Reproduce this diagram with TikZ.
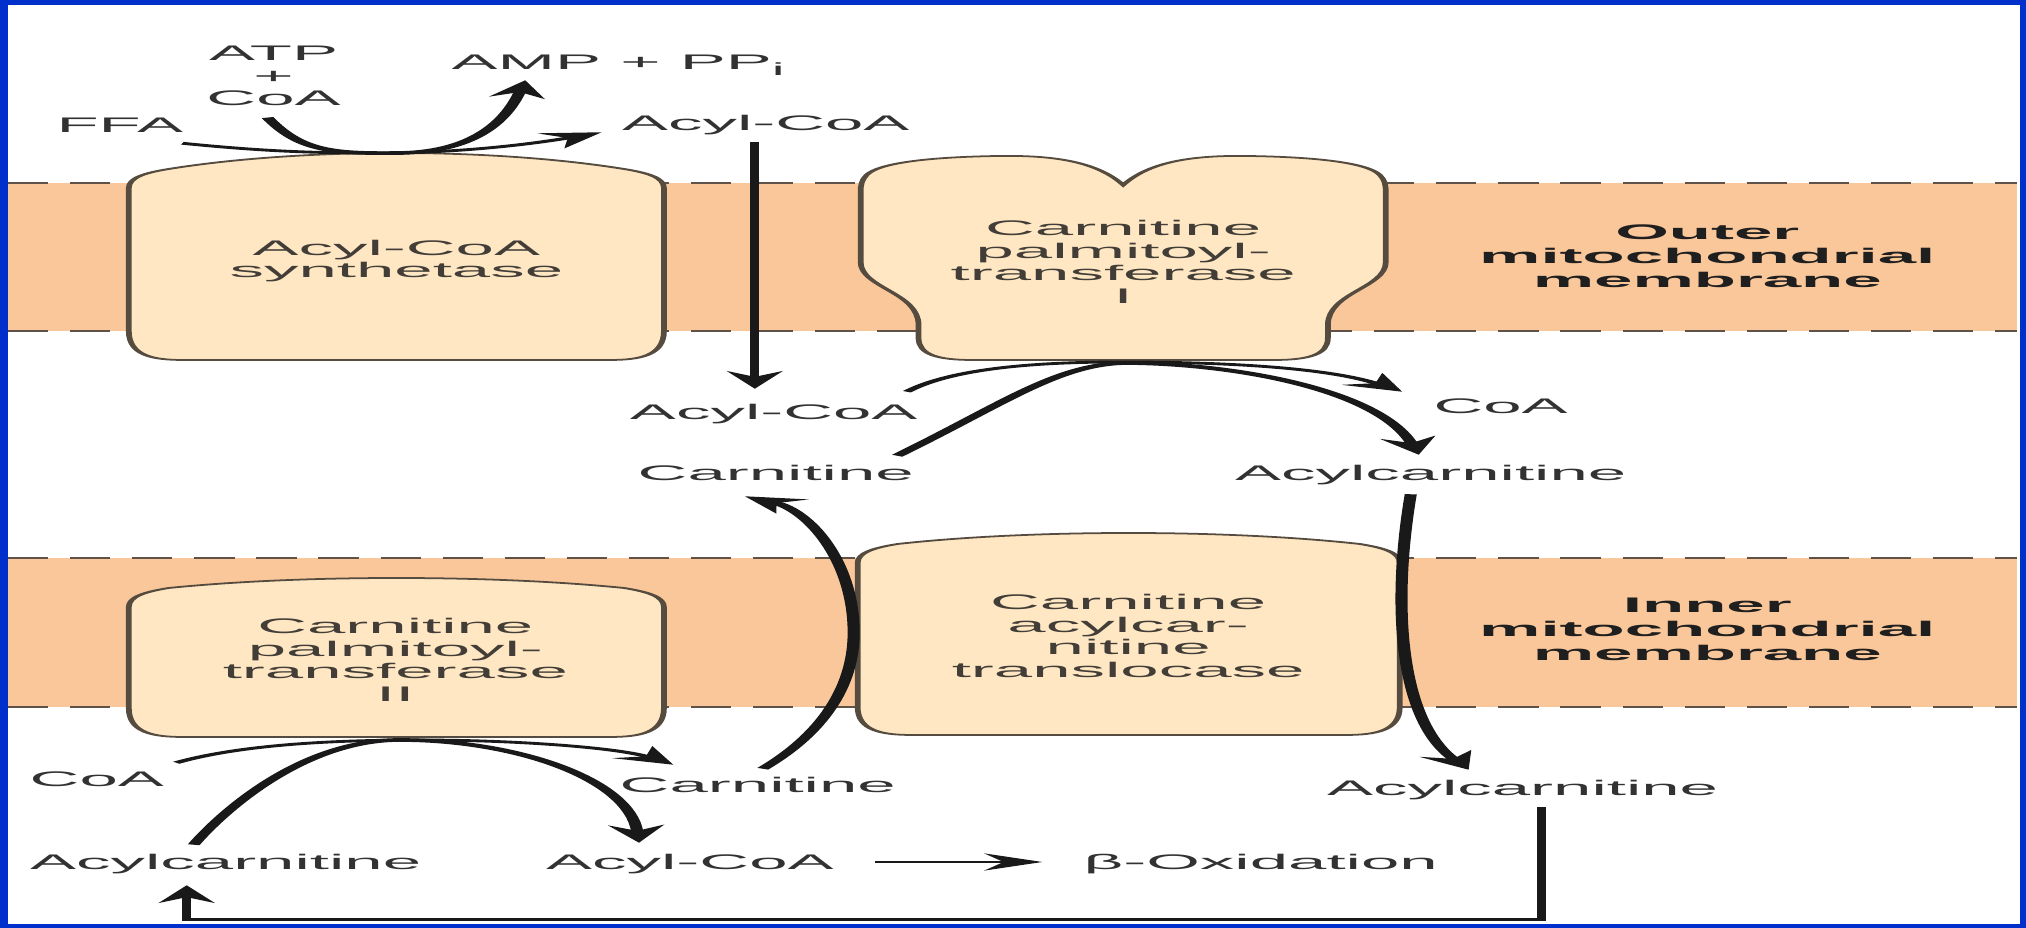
\documentclass[tikz,border=0pt]{standalone}
\usepackage{fontspec}
\usepackage{tikz}
\usetikzlibrary{arrows.meta, positioning, calc}
\newfontfamily\lblfont{Liberation Sans}
\definecolor{slideblue}{RGB}{0,48,204}
\definecolor{membcol}{RGB}{250,199,154}
\definecolor{protcol}{RGB}{255,231,196}
\definecolor{protedge}{RGB}{85,75,62}
\definecolor{dashcol}{RGB}{95,82,72}
\definecolor{txtgray}{RGB}{50,50,50}
\definecolor{enzgray}{RGB}{66,62,55}
\tikzset{
  lbl/.style={font=\lblfont\fontsize{6}{6.4}\selectfont,text=txtgray,inner sep=0pt,text height=4.3pt,text depth=0pt},
  enztext/.style={font=\lblfont\fontsize{6}{6.4}\selectfont,text=enzgray,align=center,inner sep=0pt},
  memtext/.style={font=\lblfont\bfseries\fontsize{6}{6.8}\selectfont,text=black!88,align=center,inner sep=0pt},
  membrane/.style={fill=membcol},
  memline/.style={draw=dashcol,line width=0.75pt,dash pattern=on 3.5pt off 1.9pt},
  protein/.style={fill=protcol,draw=protedge,line width=0.5pt},
  arr/.style={-{Stealth[length=5pt,width=4.8pt]},line width=0.8pt,color=black!90},
  thickarr/.style={arr,line width=1.05pt}
}
% left, right, corner y, peak y, side end y, bottom y
\newcommand{\drum}[6]{%
  \filldraw[protein] (#1,#5) -- (#1,{#3+6}) .. controls (#1,{#3-4}) and ({#1+15},{#3-9}) .. ({#1+40},{#3-13})
    .. controls ({#1+173},{(4*#4-#3+13)/3}) and ({#2-173},{(4*#4-#3+13)/3}) .. ({#2-40},{#3-13})
    .. controls ({#2-15},{#3-9}) and (#2,{#3-4}) .. (#2,{#3+6})
    -- (#2,#5) .. controls (#2,{#6-4}) and ({#2-25},#6) .. ({#2-55},#6)
    -- ({#1+55},#6) .. controls ({#1+25},#6) and (#1,{#6-4}) .. (#1,#5) -- cycle;}

\begin{document}
\begin{tikzpicture}[x=0.01cm,y=-0.01cm]
  \useasboundingbox (0,0) rectangle (2026,928);
  \fill[slideblue] (0,0) rectangle (2026,928);
  \fill[white] (8,5) rectangle (2020,924);

  \begin{scope}[x=0.0030581cm,transform canvas={xscale=3.27}]
    \fill[membrane] (8,183) rectangle (2020,331);
    \fill[membrane] (8,558) rectangle (2020,707);
    \foreach \yy in {183,331,558,707}
      \draw[memline] (8,\yy) -- (2020,\yy);

    \drum{129}{665}{182}{153}{331}{360}
    \drum{129}{665}{601}{578}{708}{737}
    \drum{859}{1402}{557}{533}{707}{735}
    \filldraw[protein] (1125,185) .. controls (1100,163) and (1060,155) .. (1000,156)
      .. controls (930,157) and (880,163) .. (868,175)
      .. controls (863,180) and (862,185) .. (862,192) -- (862,262)
      .. controls (862,288) and (920,292) .. (920,325) -- (920,338)
      .. controls (920,355) and (940,360) .. (975,360) -- (1275,360)
      .. controls (1310,360) and (1330,355) .. (1330,338) -- (1330,325)
      .. controls (1330,292) and (1388,288) .. (1388,262) -- (1388,192)
      .. controls (1388,185) and (1387,180) .. (1382,175)
      .. controls (1370,163) and (1320,157) .. (1250,156)
      .. controls (1190,155) and (1150,163) .. (1125,185) -- cycle;

    \node[enztext] (acs) at (397,261) {Acyl-CoA\\synthetase};
    \node[enztext] (cpt1) at (1125,262) {Carnitine\\palmitoyl-\\transferase\\I};
    \node[enztext] (cpt2) at (396,660) {Carnitine\\palmitoyl-\\transferase\\II};
    \node[enztext] (cact) at (1130,636) {Carnitine\\acylcar-\\nitine\\translocase};
    \node[memtext] (outer) at (1710,256) {Outer\\mitochondrial\\membrane};
    \node[memtext] (inner) at (1710,629) {Inner\\mitochondrial\\membrane};

    \node[enztext,text=txtgray] (atp) at (274,76) {ATP\\+\\CoA};
    \node[lbl] (ffa) at (120,125) {FFA};
    \node[lbl] (amp) at (622,62) {AMP + PP\textsubscript{i}};
    \node[lbl] (acyltop) at (767,123) {Acyl-CoA};
    \node[lbl] (acylmid) at (775,412) {Acyl-CoA};
    \node[lbl] (carnmid) at (777,473) {Carnitine};
    \node[lbl] (coamid) at (1503,406) {CoA};
    \node[lbl] (acylcmid) at (1433,473) {Acylcarnitine};
    \node[lbl] (carnbot) at (759,785) {Carnitine};
    \node[lbl] (acylcbot) at (1525,788) {Acylcarnitine};
    \node[lbl] (coabot) at (97,779) {CoA};
    \node[lbl] (acylcleft) at (226,862) {Acylcarnitine};
    \node[lbl] (acylbot) at (691,862) {Acyl-CoA};
    \node[lbl,right=0.75cm of acylbot] (betaox) {β-Oxidation};

    \draw[arr] ($(ffa.south east)+(-3,10)$) .. controls (270,152) and (320,153) .. (380,153)
        .. controls (470,153) and (545,142) .. ($(acyltop.south west)+(-18,1)$);
    \draw[thickarr] ($(atp.south)+(-6,11)$) .. controls (300,150) and (330,154) .. (400,153)
        .. controls (470,152) and (505,125) .. ($(amp.south west)+(76,10)$);
    \draw[arr] ($(acyltop.south)+(-11,11)$) -- ($(acylmid.north)+(-19,-15)$);

    \draw[arr] ($(acylmid.north east)+(-13,-12)$) .. controls (960,365) and (1060,362) .. (1125,362)
        .. controls (1230,362) and (1330,368) .. ($(coamid.north west)+(-29,-6)$);
    \draw[thickarr] ($(carnmid.north east)+(-19,-9)$) .. controls (1007,403) and (1060,363) .. (1130,363)
        .. controls (1240,364) and (1380,390) .. ($(acylcmid.north)+(-12,-10)$);

    \draw[thickarr] ($(carnbot.north)+(5,-8)$) .. controls (830,730) and (856,680) .. (855,630)
        .. controls (854,560) and (810,510) .. ($(carnmid.south)+(-31,15)$);
    \draw[thickarr] ($(acylcmid.south)+(-20,13)$) .. controls (1395,600) and (1400,720) .. ($(acylcbot.north)+(-54,-10)$);

    \draw[arr] ($(coabot.north east)+(10,-8)$) .. controls (240,745) and (330,740) .. (420,740)
        .. controls (520,740) and (620,748) .. ($(carnbot.north west)+(56,-12)$);
    \draw[thickarr] ($(acylcleft.north)+(-32,-9)$) .. controls (220,815) and (300,740) .. (400,740)
        .. controls (520,740) and (630,780) .. ($(acylbot.north)+(-51,-11)$);

    \draw[arr] ($(acylbot.east)+(39,0)$) -- ($(betaox.west)+(-39,0)$);
    \draw[arr] ($(acylcbot.south)+(19,11)$) |- ($(acylcleft.south)+(-39,49)$) -- ($(acylcleft.south)+(-39,15)$);
  \end{scope}
\end{tikzpicture}
\end{document}
